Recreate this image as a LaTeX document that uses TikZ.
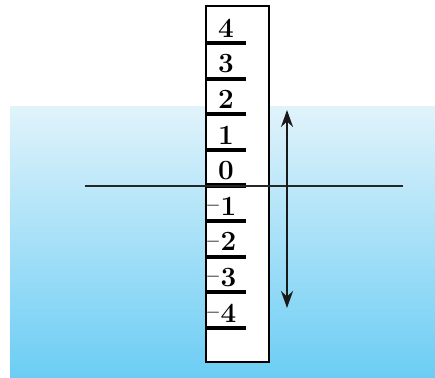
\documentclass[tikz,border=0pt]{standalone}
\usetikzlibrary{arrows.meta}
\definecolor{watertop}{HTML}{E0F3FB}
\definecolor{waterbot}{HTML}{6CCDF4}
\begin{document}
\begin{tikzpicture}[
    water/.style={top color=watertop, bottom color=waterbot, draw=none},
    stick/.style={draw=black, fill=white, line width=0.6pt},
    scaletick/.style={line width=2.3pt},
    numlbl/.style={font=\Large\bfseries, inner sep=0pt, scale=1.1},
    level/.style={line width=1.1pt, draw=black!85},
    swing/.style={{Stealth[length=3.4mm,width=2.4mm]}-{Stealth[length=3.4mm,width=2.4mm]}, line width=1.2pt, draw=black!90},
]
\useasboundingbox (0,0) rectangle (8.7,-7.54);
% water
\fill[water] (0.2,-2.14) rectangle (8.7,-7.54);
% measuring stick
\draw[stick] (4.12,-0.12) rectangle (5.38,-7.24);
\foreach \k in {4,3,2,1,0} {
  \draw[scaletick] (4.14,{-3.71+0.712*\k}) -- (4.92,{-3.71+0.712*\k});
  \node[numlbl] (n\k) at (4.52,{-3.41+0.712*\k}) {\k};
}
\foreach \k in {1,2,3,4} {
  \draw[scaletick] (4.14,{-3.71-0.712*\k}) -- (4.92,{-3.71-0.712*\k});
  \node[numlbl] (m\k) at (4.42,{-3.41-0.712*\k}) {\raisebox{2.5pt}{\mdseries\normalsize$-$}\k};
}
% water level
\coordinate (lvlL) at (1.7,-3.72);
\coordinate (lvlR) at (8.06,-3.72);
\draw[level] (lvlL) -- (lvlR);
% up and down
\coordinate (up) at (5.74,-2.2);
\coordinate (down) at (5.74,-6.16);
\draw[swing] (up) -- (down);
\end{tikzpicture}
\end{document}
